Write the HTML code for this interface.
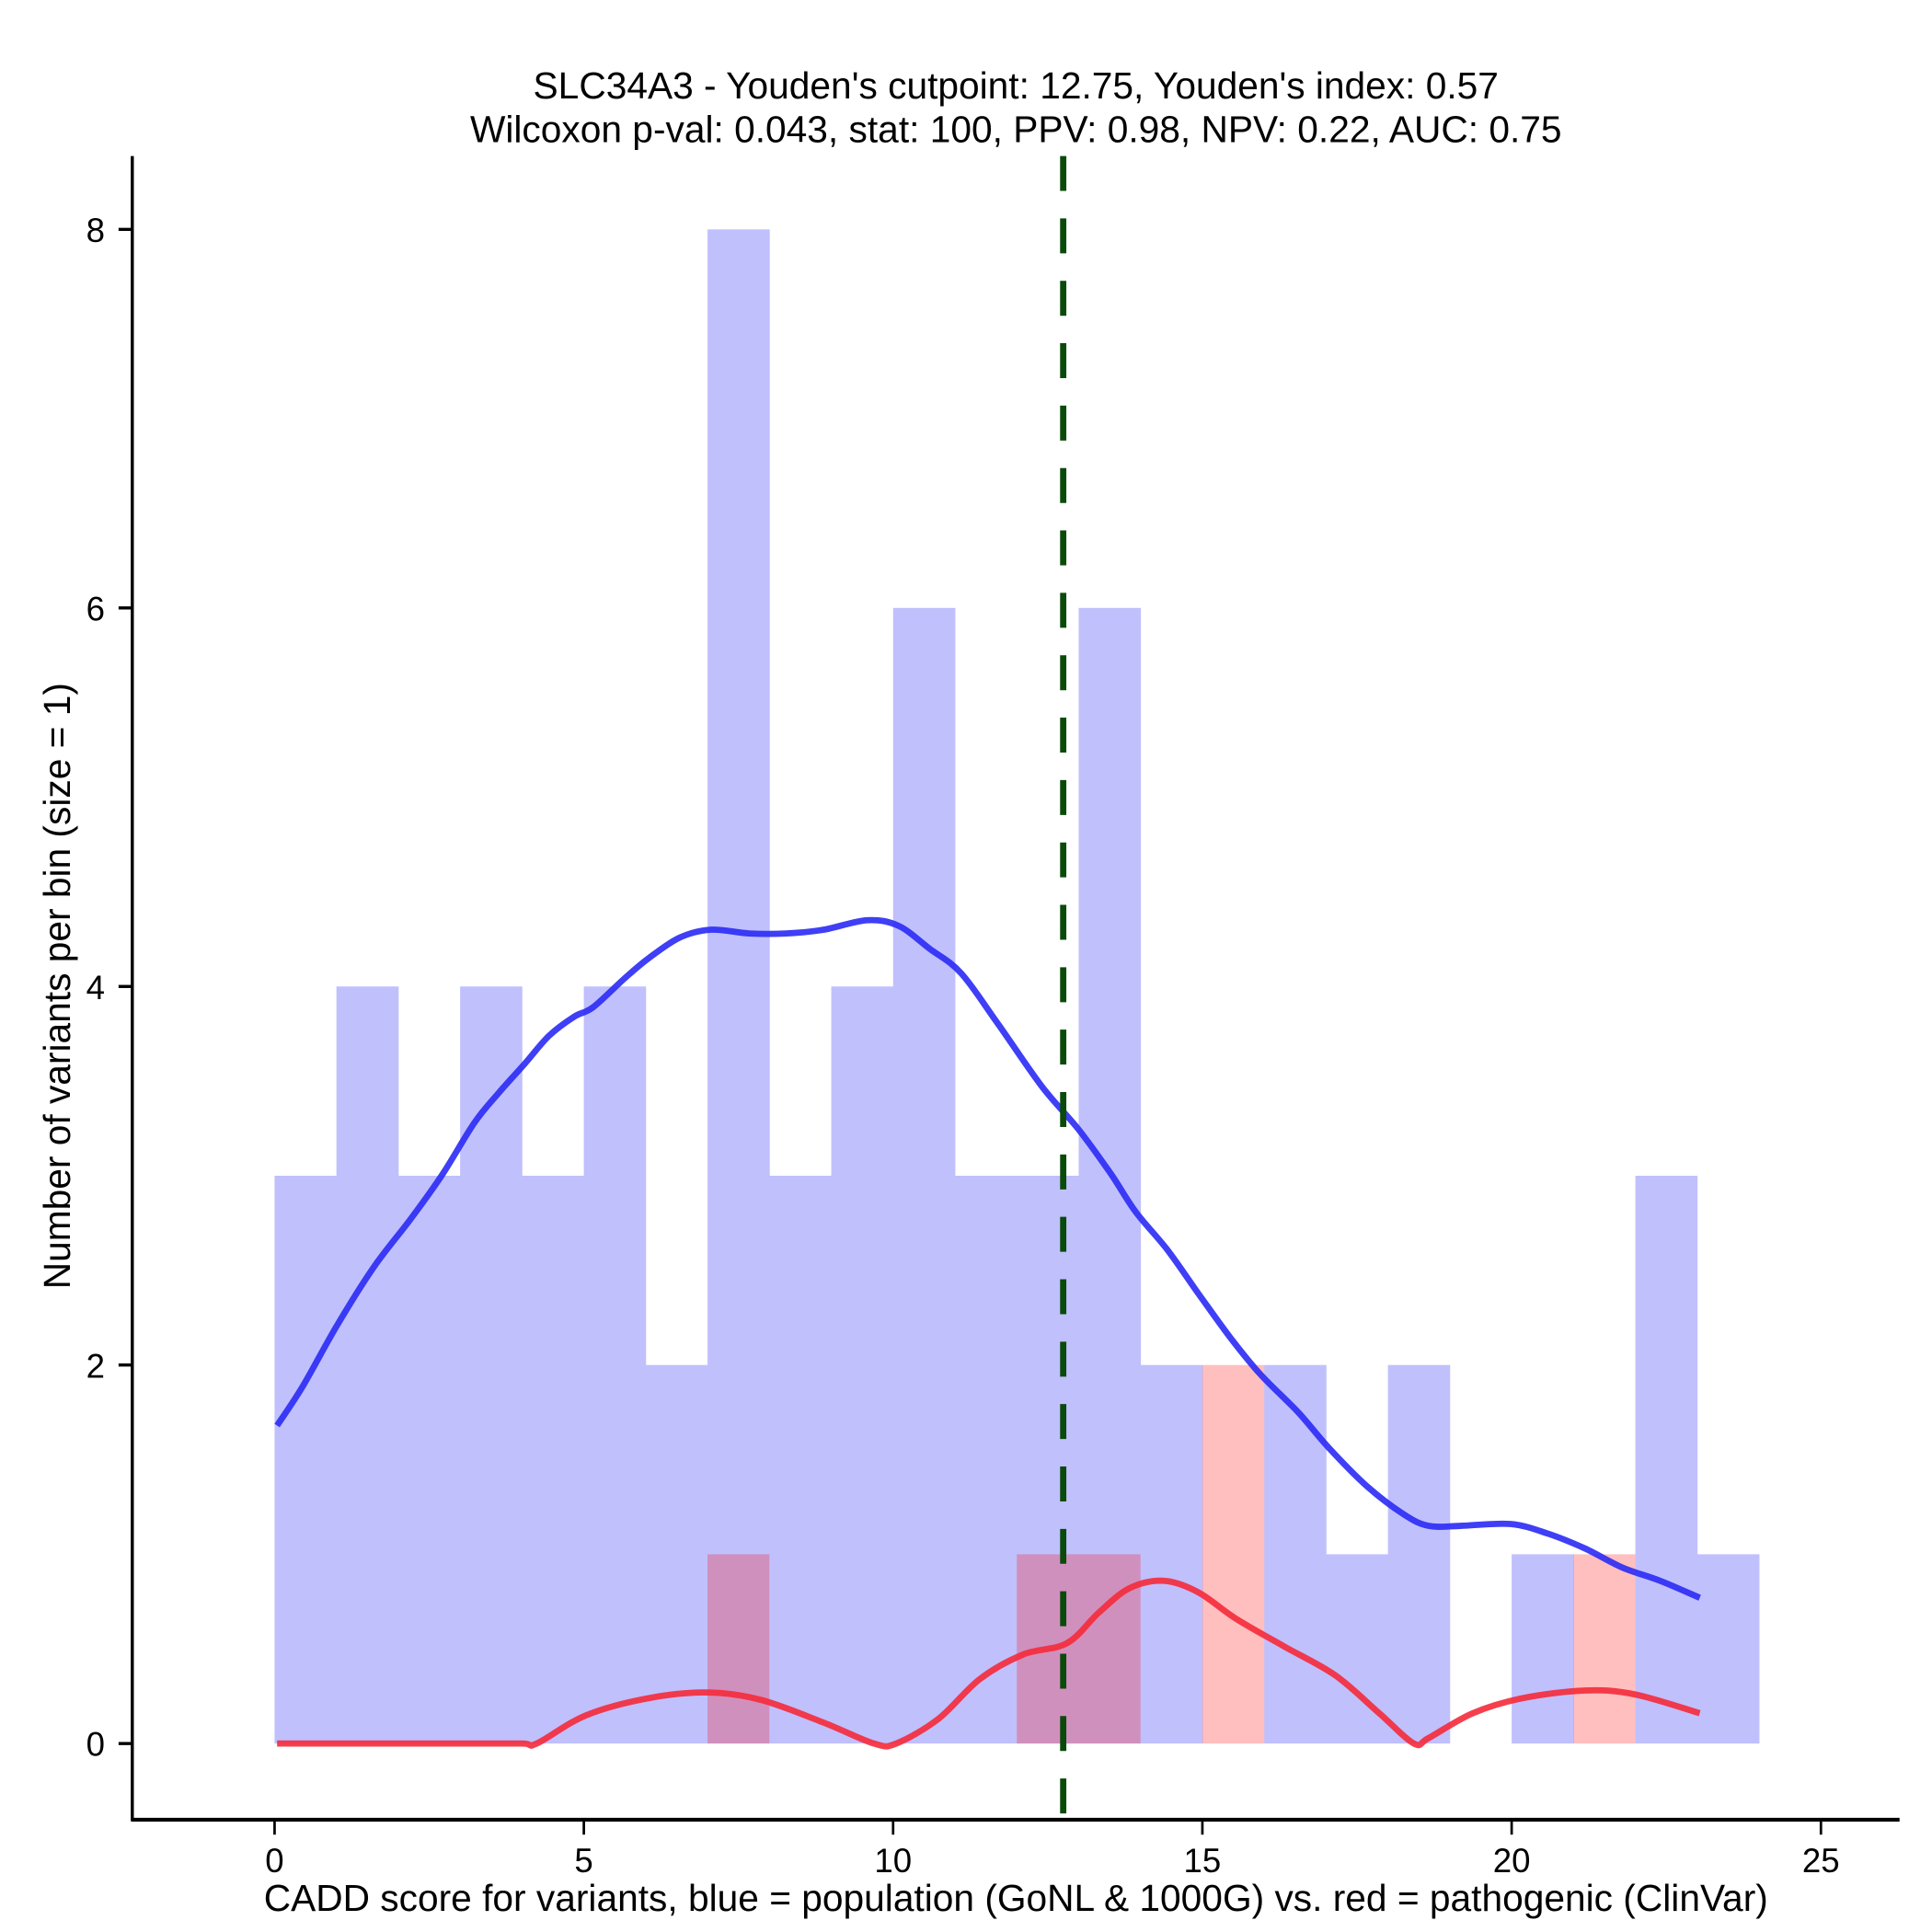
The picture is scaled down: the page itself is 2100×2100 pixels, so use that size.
<!DOCTYPE html>
<html><head><meta charset="utf-8"><style>html,body{margin:0;padding:0;background:#fff}svg{display:block}text{font-family:"Liberation Sans",Arial,sans-serif;fill:#000}</style></head>
<body>
<svg id="chart" width="2100" height="2100" viewBox="0 0 1548 1548" xmlns="http://www.w3.org/2000/svg">
<g id="bars"></g>
<g id="lines"></g>
<g id="axes"></g>
<text x="814" y="79" font-size="30" text-anchor="middle">SLC34A3 - Youden's cutpoint: 12.75, Youden's index: 0.57</text>
<text x="814" y="114" font-size="30" text-anchor="middle">Wilcoxon p-val: 0.043, stat: 100, PPV: 0.98, NPV: 0.22, AUC: 0.75</text>
<text x="814" y="1531" font-size="30" text-anchor="middle">CADD score for variants, blue = population (GoNL &amp; 1000G) vs. red = pathogenic (ClinVar)</text>
<text x="0" y="0" font-size="30" text-anchor="middle" transform="translate(56,790) rotate(-90)">Number of variants per bin (size = 1)</text>
</svg>
<script>
const binStarts = [0,1,2,3,4,5,6,7,8,9,10,11,12,13,14,15,16,17,18,19,20,21,22,23];
const blueCounts = [3,4,3,4,3,4,2,8,3,4,6,3,3,6,2,0,2,1,2,0,1,0,3,1];
const redCounts  = [0,0,0,0,0,0,0,1,0,0,0,0,1,1,0,2,0,0,0,0,0,1,0,0];
const blueX = [0.04,0.46,1.01,1.61,2.22,2.72,3.23,3.63,4.04,4.44,4.84,5.15,5.65,6.05,6.56,7.06,7.67,8.27,8.88,9.58,10.09,10.59,11.10,11.70,12.41,13.01,13.52,13.92,14.43,14.93,15.44,15.94,16.55,17.05,17.66,18.26,18.66,19.17,19.98,20.58,21.19,21.79,22.40,23.04];
const blueY = [1.68,1.89,2.21,2.52,2.78,3.01,3.28,3.44,3.59,3.74,3.84,3.89,4.04,4.15,4.26,4.30,4.28,4.28,4.30,4.35,4.32,4.20,4.07,3.80,3.47,3.24,3.01,2.81,2.61,2.38,2.15,1.95,1.75,1.56,1.36,1.21,1.15,1.15,1.16,1.11,1.03,0.93,0.86,0.77];
const redX = [0.04,1,2,3,4,4.24,5.04,6.05,7.0,7.87,8.88,9.69,10.05,10.73,11.4,12.1,12.81,13.32,13.82,14.37,14.93,15.54,16.34,17.15,17.86,18.42,18.66,19.37,20.18,21.19,21.99,23.04];
const redY = [0,0,0,0,0,0,0.15,0.24,0.27,0.23,0.11,0,0,0.13,0.34,0.47,0.53,0.69,0.82,0.86,0.80,0.66,0.51,0.36,0.16,0,0.03,0.16,0.24,0.28,0.26,0.16];
const xTicks = [0,5,10,15,20,25];
const yTicks = [0,2,4,6,8];
const cutpoint = [12.75];

const NS='http://www.w3.org/2000/svg';
function X(v){return 220+v*49.56;}
function Y(v){return 1397-v*151.65;}
function mk(tag,attrs,parent){const e=document.createElementNS(NS,tag);for(const k in attrs)e.setAttribute(k,attrs[k]);parent.appendChild(e);return e;}
const bars=document.getElementById('bars'),lines=document.getElementById('lines'),axes=document.getElementById('axes');
binStarts.forEach((b,i)=>{
  if(blueCounts[i]>0){const r=mk('rect',{x:X(b),y:Y(blueCounts[i]),width:X(b+1)-X(b)+0.3,height:Y(0)-Y(blueCounts[i]),fill:'#c0c0fd'},bars);
  
  }
});
binStarts.forEach((b,i)=>{
  if(redCounts[i]>0){const r=mk('rect',{x:X(b),y:Y(redCounts[i]),width:X(b+1)-X(b),height:Y(0)-Y(redCounts[i]),fill:'#ff0000','fill-opacity':'0.25'},bars);
  
  }
});
function path(xs,ys){
  const p=xs.map((x,i)=>[X(x),Y(ys[i])]);
  let d='M'+p[0][0].toFixed(1)+','+p[0][1].toFixed(1);
  for(let i=0;i<p.length-1;i++){
    const p0=p[Math.max(0,i-1)],p1=p[i],p2=p[i+1],p3=p[Math.min(p.length-1,i+2)];
    const c1=[p1[0]+(p2[0]-p0[0])/6,p1[1]+(p2[1]-p0[1])/6],c2=[p2[0]-(p3[0]-p1[0])/6,p2[1]-(p3[1]-p1[1])/6];
    d+=' C'+c1.map(v=>v.toFixed(1)).join(',')+' '+c2.map(v=>v.toFixed(1)).join(',')+' '+p2.map(v=>v.toFixed(1)).join(',');
  }
  return d;
}
const bl=mk('path',{d:path(blueX,blueY),fill:'none',stroke:'#2a2af5','stroke-opacity':'0.9','stroke-width':'5','stroke-linejoin':'round'},lines);


const rl=mk('path',{d:path(redX,redY),fill:'none',stroke:'#f52a3a','stroke-opacity':'0.9','stroke-width':'5','stroke-linejoin':'round'},lines);


const cl=mk('line',{x1:X(cutpoint[0]),x2:X(cutpoint[0]),y1:125,y2:1458,stroke:'#0a4a0a','stroke-width':'5','stroke-dasharray':'28 22'},lines);


const ya=mk('line',{x1:106,x2:106,y1:125,y2:1459,stroke:'#000','stroke-width':'2.5'},axes);


const xa=mk('line',{x1:105,x2:1522,y1:1458,y2:1458,stroke:'#000','stroke-width':'3'},axes);


xTicks.forEach(t=>{
  const l=mk('line',{x1:X(t),x2:X(t),y1:1458,y2:1470,stroke:'#000','stroke-width':'2'},axes);
  
  
  const tx=mk('text',{x:X(t),y:1500,'font-size':'27','text-anchor':'middle'},axes);tx.textContent=t;
  
  
});
yTicks.forEach(t=>{
  const l=mk('line',{x1:95,x2:106,y1:Y(t),y2:Y(t),stroke:'#000','stroke-width':'2.5'},axes);
  
  
  const tx=mk('text',{x:84,y:Y(t)+10,'font-size':'27','text-anchor':'end'},axes);tx.textContent=t;
  
  
});
</script>
</body></html>
